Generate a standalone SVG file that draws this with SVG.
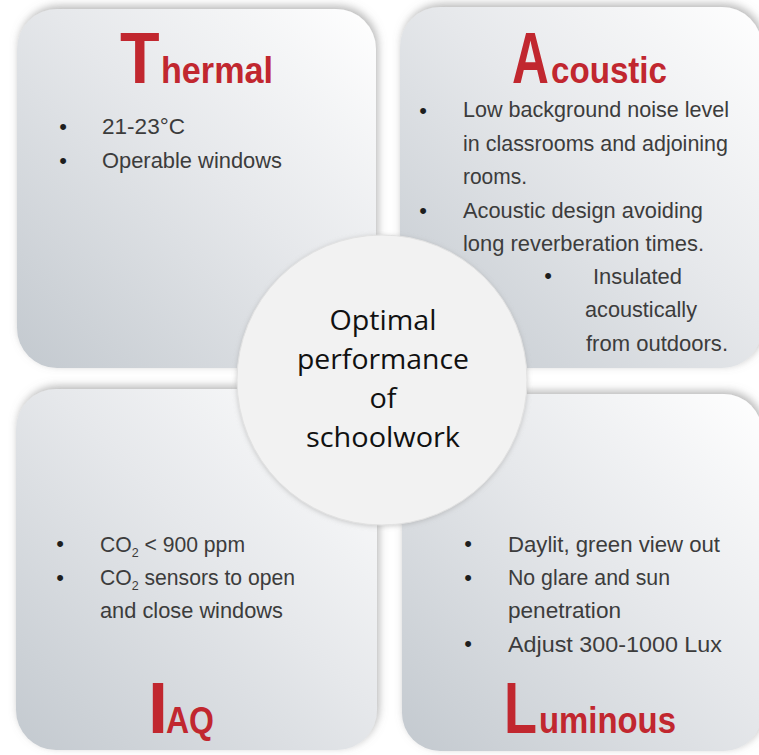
<svg xmlns="http://www.w3.org/2000/svg" width="759" height="755" viewBox="0 0 759 755">
  <defs>
    <linearGradient id="panelFill" x1="1" y1="0" x2="0" y2="1">
      <stop offset="0" stop-color="#ffffff"/>
      <stop offset="0.45" stop-color="#e6e8eb"/>
      <stop offset="1" stop-color="#c3c9cf"/>
    </linearGradient>
    <filter id="panelShadow" x="-10%" y="-10%" width="120%" height="120%">
      <feGaussianBlur in="SourceAlpha" stdDeviation="4"/>
      <feOffset dx="2" dy="-3" result="blur"/>
      <feFlood flood-color="#7d7d7d" flood-opacity="0.55"/>
      <feComposite in2="blur" operator="in"/>
      <feMerge>
        <feMergeNode/>
        <feMergeNode in="SourceGraphic"/>
      </feMerge>
    </filter>
    <filter id="hubShadow" x="-10%" y="-10%" width="120%" height="120%">
      <feGaussianBlur in="SourceAlpha" stdDeviation="2.5"/>
      <feOffset dx="0" dy="1" result="blur"/>
      <feFlood flood-color="#9a9a9a" flood-opacity="0.5"/>
      <feComposite in2="blur" operator="in"/>
      <feMerge>
        <feMergeNode/>
        <feMergeNode in="SourceGraphic"/>
      </feMerge>
    </filter>
  </defs>
  <style>
    .panel { fill: url(#panelFill); filter: url(#panelShadow); }
    .initial { font-family: "Liberation Sans", Arial, sans-serif; font-weight: bold; font-size: 72px; fill: #c1272f; }
    .rest { font-family: "Liberation Sans", Arial, sans-serif; font-weight: bold; font-size: 36px; fill: #c1272f; }
    .item { font-family: "Liberation Sans", Arial, sans-serif; font-size: 22px; fill: #3c3c3c; }
    .dot { font-family: "Liberation Sans", Arial, sans-serif; font-size: 22px; fill: #1e1e1e; text-anchor: middle; }
    .sub { font-size: 13px; }
    .hub { fill: #f2f2f2; stroke: #e2e2e2; stroke-width: 1; filter: url(#hubShadow); }
    .hubText { font-family: "Open Sans", "Liberation Sans", sans-serif; font-size: 27px; fill: #111111; text-anchor: middle; }
  </style>

  <rect width="759" height="755" fill="#ffffff"/>

  <!-- Thermal panel -->
  <g id="thermal">
    <rect class="panel" x="17" y="9" width="359" height="359" rx="40" ry="40"/>
    <text class="initial" transform="translate(120,83) scale(0.9,1)">T</text>
    <text class="rest" x="161" y="83" textLength="112" lengthAdjust="spacingAndGlyphs">hermal</text>
    <text class="dot" x="63" y="134">•</text>
    <text class="item" x="102" y="134" textLength="83" lengthAdjust="spacingAndGlyphs">21-23°C</text>
    <text class="dot" x="63" y="168">•</text>
    <text class="item" x="102" y="168" textLength="180" lengthAdjust="spacingAndGlyphs">Operable windows</text>
  </g>

  <!-- Acoustic panel -->
  <g id="acoustic">
    <rect class="panel" x="400" y="7" width="362" height="361" rx="40" ry="40"/>
    <text class="initial" transform="translate(512,83) scale(0.71,1)">A</text>
    <text class="rest" x="551" y="83" textLength="116" lengthAdjust="spacingAndGlyphs">coustic</text>
    <text class="dot" x="423" y="118">•</text>
    <text class="item" x="463" y="117" textLength="266" lengthAdjust="spacingAndGlyphs">Low background noise level</text>
    <text class="item" x="463" y="151" textLength="265" lengthAdjust="spacingAndGlyphs">in classrooms and adjoining</text>
    <text class="item" x="463" y="184" textLength="64" lengthAdjust="spacingAndGlyphs">rooms.</text>
    <text class="dot" x="423" y="218">•</text>
    <text class="item" x="463" y="218" textLength="240" lengthAdjust="spacingAndGlyphs">Acoustic design avoiding</text>
    <text class="item" x="463" y="251" textLength="241" lengthAdjust="spacingAndGlyphs">long reverberation times.</text>
    <text class="dot" x="548" y="283">•</text>
    <text class="item" x="593" y="284" textLength="89" lengthAdjust="spacingAndGlyphs">Insulated</text>
    <text class="item" x="585" y="317" textLength="112" lengthAdjust="spacingAndGlyphs">acoustically</text>
    <text class="item" x="586" y="351" textLength="142" lengthAdjust="spacingAndGlyphs">from outdoors.</text>
  </g>

  <!-- IAQ panel -->
  <g id="iaq">
    <rect class="panel" x="16" y="389" width="361" height="361" rx="40" ry="40"/>
    <text class="dot" x="60" y="551">•</text>
    <text class="item" x="100" y="552" textLength="145" lengthAdjust="spacingAndGlyphs">CO<tspan class="sub" dy="5">2</tspan><tspan dy="-5"> &lt; 900 ppm</tspan></text>
    <text class="dot" x="60" y="585">•</text>
    <text class="item" x="100" y="585" textLength="195" lengthAdjust="spacingAndGlyphs">CO<tspan class="sub" dy="5">2</tspan><tspan dy="-5"> sensors to open</tspan></text>
    <text class="item" x="100" y="618" textLength="183" lengthAdjust="spacingAndGlyphs">and close windows</text>
    <text class="initial" x="148" y="733">I</text>
    <text class="rest" x="166" y="733" font-size="32" textLength="48" lengthAdjust="spacingAndGlyphs">AQ</text>
  </g>

  <!-- Luminous panel -->
  <g id="luminous">
    <rect class="panel" x="402" y="394" width="360" height="357" rx="38" ry="38"/>
    <text class="dot" x="468" y="551">•</text>
    <text class="item" x="508" y="552" textLength="212" lengthAdjust="spacingAndGlyphs">Daylit, green view out</text>
    <text class="dot" x="468" y="585">•</text>
    <text class="item" x="508" y="585" textLength="162" lengthAdjust="spacingAndGlyphs">No glare and sun</text>
    <text class="item" x="508" y="618" textLength="113" lengthAdjust="spacingAndGlyphs">penetration</text>
    <text class="dot" x="468" y="651">•</text>
    <text class="item" x="508" y="652" textLength="214" lengthAdjust="spacingAndGlyphs">Adjust 300-1000 Lux</text>
    <text class="initial" transform="translate(504,733) scale(0.75,1)">L</text>
    <text class="rest" x="539" y="733" textLength="137" lengthAdjust="spacingAndGlyphs">uminous</text>
  </g>

  <!-- Central hub -->
  <g id="hub">
    <circle class="hub" cx="382" cy="380" r="145"/>
    <text class="hubText" x="383" y="330" textLength="107" lengthAdjust="spacingAndGlyphs">Optimal</text>
    <text class="hubText" x="383" y="369" textLength="172" lengthAdjust="spacingAndGlyphs">performance</text>
    <text class="hubText" x="383" y="408" textLength="27" lengthAdjust="spacingAndGlyphs">of</text>
    <text class="hubText" x="383" y="447" textLength="154" lengthAdjust="spacingAndGlyphs">schoolwork</text>
  </g>

  <g id="connectors"/>
</svg>
